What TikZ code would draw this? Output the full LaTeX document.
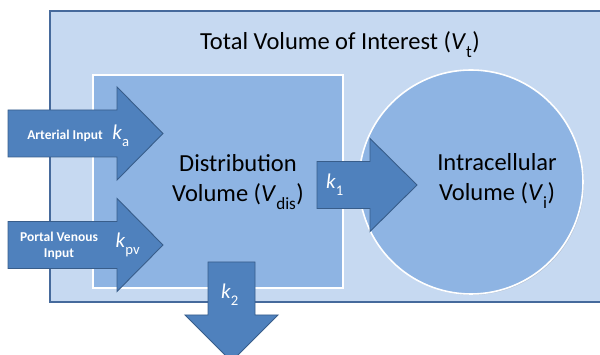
\documentclass[tikz,border=0pt]{standalone}
\usepackage{fontspec}
\setmainfont{Carlito}
\usetikzlibrary{positioning,shadows}

\definecolor{totalfill}{RGB}{198,217,241}
\definecolor{totalline}{RGB}{70,106,156}
\definecolor{volfill}{RGB}{142,180,227}
\definecolor{arrowfill}{RGB}{79,129,189}
\definecolor{arrowline}{RGB}{56,93,138}

\newcommand{\lowsub}[1]{\raisebox{-0.35ex}{\textsubscript{#1}}}

\begin{document}
\begin{tikzpicture}[x=1pt, y=1pt,
	blockarrow/.style={fill=arrowfill, draw=arrowline, line width=0.9pt, line join=miter},
	volume/.style={fill=volfill, draw=white, line width=1.6pt,
		drop shadow={opacity=0.25, shadow xshift=1pt, shadow yshift=-1pt}},
	bigtext/.style={font=\fontsize{24.5}{30}\selectfont, align=center},
	smalltext/.style={font=\fontsize{13.5}{16}\selectfont\bfseries, text=white, align=center},
	ktext/.style={font=\fontsize{21}{24}\selectfont, text=white, inner sep=0pt}]
	\useasboundingbox (0,0) rectangle (600,355);
	\clip (0,0) rectangle (600,355);
	
	% volumes
	\draw[fill=totalfill, draw=totalline, line width=1.2pt] (50,53) rectangle (610,344);
	\node[volume, minimum width=250, minimum height=213] (dist) at (218,173.5) {};
	\node[volume, circle, minimum size=224] (intra) at (471,173) {};
	
	% flows
	\draw[blockarrow] (8,198) -- (117,198) -- (117,175) -- (163,221.5) -- (117,268) -- (117,245) -- (8,245) -- cycle;
	\draw[blockarrow] (8,86.5) -- (117,86.5) -- (117,63.5) -- (163,110) -- (117,156.5) -- (117,133.5) -- (8,133.5) -- cycle;
	\draw[blockarrow] (317,146.5) -- (370,146.5) -- (370,123.5) -- (417,170) -- (370,216.5) -- (370,193.5) -- (317,193.5) -- cycle;
	\draw[blockarrow] (208,93) -- (208,40) -- (185,40) -- (231.5,-6.5) -- (278,40) -- (255,40) -- (255,93) -- cycle;
	
	% labels
	\node[bigtext] (title) at (340,310) {Total Volume of Interest (\textit{V}\lowsub{t})};
	\node[bigtext] (disttext) at (238,173) {Distribution\\Volume (\textit{V}\lowsub{dis})};
	\node[bigtext] (intratext) at (497,174) {Intracellular\\Volume (\textit{V}\lowsub{i})};
	
	\node[smalltext] (arterial) at (65,219) {Arterial Input};
	\node[ktext, right=6pt of arterial] (ka) {\textit{k}\lowsub{a}};
	\node[smalltext] (portal) at (59,109) {Portal Venous\\Input};
	\node[ktext] (kpv) at (128,110) {\textit{k}\lowsub{pv}};
	\node[ktext] (k1) at (335,170) {\textit{k}\lowsub{1}};
	\node[ktext] (k2) at (230,60) {\textit{k}\lowsub{2}};
\end{tikzpicture}
\end{document}
